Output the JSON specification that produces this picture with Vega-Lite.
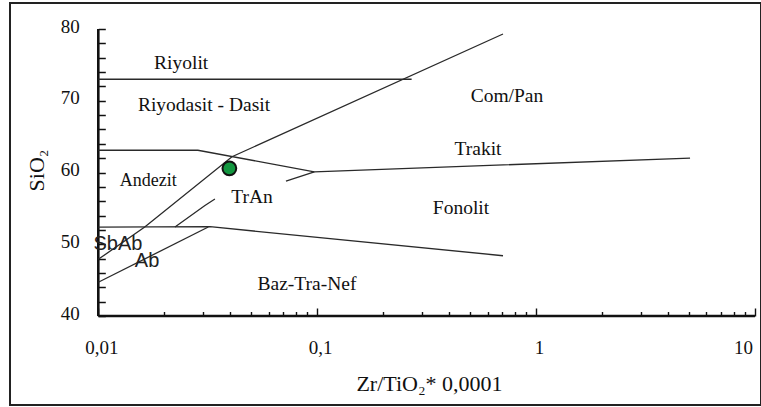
{
  "$schema": "https://vega.github.io/schema/vega-lite/v6.json",
  "width": 751,
  "height": 402,
  "autosize": {"type": "none"},
  "padding": {"left": 10, "top": 3, "right": 0, "bottom": 2},
  "background": "white",
  "config": {
    "view": {"stroke": "#222", "strokeWidth": 2},
    "font": "Liberation Serif"
  },
  "encoding": {
    "x": {
      "field": "x",
      "type": "quantitative",
      "scale": {"type": "log", "domain": [0.00395, 10.652], "nice": false},
      "axis": {
        "orient": "bottom",
        "offset": -89,
        "domain": false,
        "grid": false,
        "values": [0.01, 0.02, 0.03, 0.04, 0.05, 0.06, 0.07, 0.08, 0.09, 0.1, 0.2, 0.3, 0.4, 0.5, 0.6, 0.7, 0.8, 0.9, 1, 2, 3, 4, 5, 6, 7, 8, 9, 10],
        "labelExpr": "datum.value == 0.01 ? '0,01' : datum.value == 0.1 ? '0,1' : datum.value == 1 ? '1' : datum.value == 10 ? '10' : ''",
        "tickSize": {"condition": {"test": "datum.value == 0.01 || datum.value == 0.1 || datum.value == 1 || datum.value == 10", "value": -8}, "value": -4.5},
        "tickColor": "#111",
        "tickWidth": 1.4,
        "labelPadding": 30,
        "labelFont": "Liberation Serif",
        "labelFontSize": 19,
        "labelColor": "#111",
        "labelOverlap": false,
        "labelOffset": {"condition": {"test": "datum.value == 10", "value": -12}, "value": 3},
        "title": "Zr/TiO₂* 0,0001",
        "titleFont": "Liberation Serif",
        "titleFontSize": 22,
        "titleFontWeight": "normal",
        "titleColor": "#111",
        "titleX": 419,
        "titleY": 67,
        "titleBaseline": "middle",
        "titleAlign": "center",
        "titleAnchor": null
      }
    },
    "y": {
      "field": "y",
      "type": "quantitative",
      "scale": {"domain": [27.596, 83.624], "nice": false, "zero": false},
      "axis": {
        "orient": "left",
        "offset": -88.3,
        "domain": false,
        "grid": false,
        "values": [40, 42, 44, 46, 48, 50, 52, 54, 56, 58, 60, 62, 64, 66, 68, 70, 72, 74, 76, 78, 80],
        "labelExpr": "datum.value % 10 == 0 ? datum.label : ''",
        "tickSize": -7,
        "tickColor": "#111",
        "tickWidth": 1.5,
        "labelPadding": 26,
        "labelFont": "Liberation Serif",
        "labelFontSize": 19,
        "labelColor": "#111",
        "labelOffset": -3,
        "labelOverlap": false,
        "title": "SiO₂",
        "titleFont": "Liberation Serif",
        "titleFontSize": 22,
        "titleFontWeight": "normal",
        "titleColor": "#111",
        "titleAngle": 270,
        "titleX": -62,
        "titleY": 167,
        "titleBaseline": "middle",
        "titleAlign": "center",
        "titleAnchor": null
      }
    }
  },
  "layer": [
    {
      "data": {"values": [
        {"x": 0.01, "y": 40, "x2": 10, "y2": 40},
        {"x": 0.01, "y": 40, "x2": 0.01, "y2": 80}
      ]},
      "mark": {"type": "rule", "color": "#111", "strokeWidth": 2.6},
      "encoding": {
        "x2": {"field": "x2"},
        "y2": {"field": "y2"}
      }
    },
    {
      "data": {"values": [
        {"seg": "A", "o": 1, "x": 0.01, "y": 73.0},
        {"seg": "A", "o": 2, "x": 0.27, "y": 73.0},
        {"seg": "B", "o": 1, "x": 0.01, "y": 47.9},
        {"seg": "B", "o": 2, "x": 0.0163, "y": 52.4},
        {"seg": "B", "o": 3, "x": 0.0408, "y": 62.2},
        {"seg": "B", "o": 4, "x": 0.706, "y": 79.3},
        {"seg": "C", "o": 1, "x": 0.01, "y": 63.1},
        {"seg": "C", "o": 2, "x": 0.0285, "y": 63.1},
        {"seg": "C", "o": 3, "x": 0.097, "y": 60.1},
        {"seg": "C", "o": 4, "x": 5.05, "y": 62.0},
        {"seg": "D", "o": 1, "x": 0.072, "y": 58.8},
        {"seg": "D", "o": 2, "x": 0.097, "y": 60.1},
        {"seg": "E", "o": 1, "x": 0.01, "y": 52.4},
        {"seg": "E", "o": 2, "x": 0.0324, "y": 52.45},
        {"seg": "E", "o": 3, "x": 0.706, "y": 48.4},
        {"seg": "F", "o": 1, "x": 0.01, "y": 44.7},
        {"seg": "F", "o": 2, "x": 0.0318, "y": 52.4},
        {"seg": "G", "o": 1, "x": 0.0224, "y": 52.4},
        {"seg": "G", "o": 2, "x": 0.0307, "y": 55.4},
        {"seg": "G", "o": 3, "x": 0.0341, "y": 56.3}
      ]},
      "mark": {"type": "line", "color": "#2a2a2a", "strokeWidth": 1.3},
      "encoding": {
        "detail": {"field": "seg"},
        "order": {"field": "o", "type": "quantitative"}
      }
    },
    {
      "data": {"values": [
        {"label": "Riyolit", "x": 0.0239, "y": 75.3},
        {"label": "Riyodasit - Dasit", "x": 0.0304, "y": 69.4},
        {"label": "Com/Pan", "x": 0.736, "y": 70.7},
        {"label": "Trakit", "x": 0.543, "y": 63.3},
        {"label": "Andezit", "x": 0.0169, "y": 58.8},
        {"label": "TrAn", "x": 0.0504, "y": 56.6},
        {"label": "Fonolit", "x": 0.454, "y": 55.05},
        {"label": "Baz-Tra-Nef", "x": 0.0898, "y": 44.5}
      ]},
      "mark": {"type": "text", "font": "Liberation Serif", "align": "center", "baseline": "middle", "color": "#111"},
      "encoding": {
        "text": {"field": "label"},
        "size": {"condition": {"test": "datum.label === 'Andezit'", "value": 18}, "value": 19.5}
      }
    },
    {
      "data": {"values": [
        {"label": "SbAb", "x": 0.0123, "y": 50.0},
        {"label": "Ab", "x": 0.0167, "y": 47.7}
      ]},
      "mark": {"type": "text", "font": "Liberation Sans", "fontSize": 20, "align": "center", "baseline": "middle", "color": "#222"},
      "encoding": {
        "text": {"field": "label"}
      }
    },
    {
      "data": {"values": [
        {"x": 0.0397, "y": 60.58}
      ]},
      "mark": {"type": "circle", "color": "#12963f", "opacity": 1, "stroke": "#111", "strokeWidth": 2, "size": 190},
      "encoding": {}
    }
  ]
}
